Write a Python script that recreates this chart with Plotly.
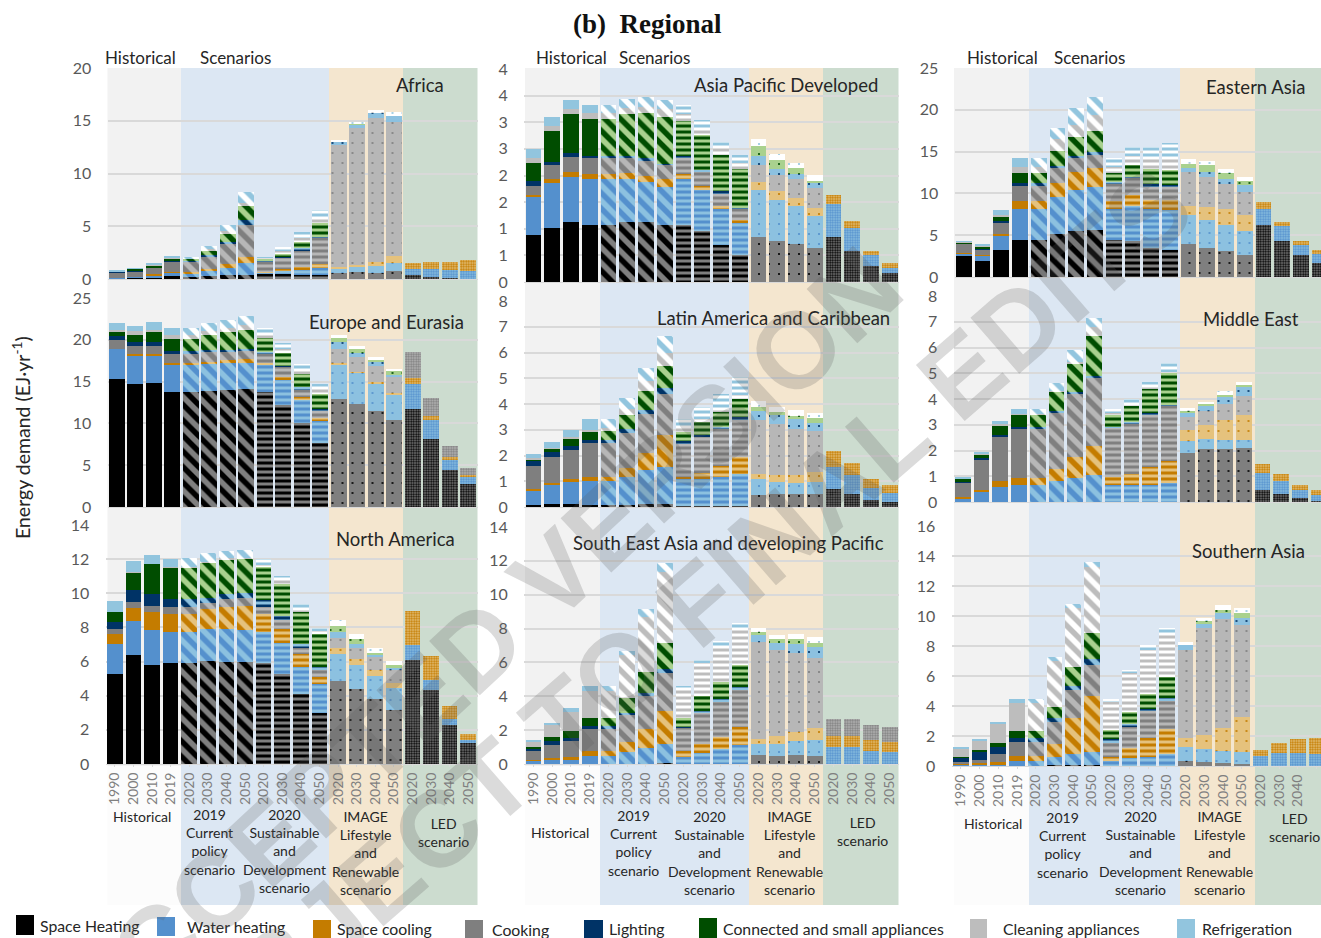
import plotly.graph_objects as go

W, H = 1321, 938

series_names = ["Space Heating", "Water heating", "Space cooling", "Cooking", "Lighting",
                "Connected and small appliances", "Cleaning appliances", "Refrigeration"]
years = ["1990", "2000", "2010", "2019"] + ["2020", "2030", "2040", "2050"] * 4

# each row is one bar: heating, water, cooling, cooking, lighting, connected, cleaning, refrigeration
africa = [
    [.08,.05,0,.5,.07,.03,0,.09], [.1,.08,0,.55,.05,.17,0,.09], [.1,.2,.15,.6,.05,.15,.05,.2], [.25,.35,.1,.95,.05,.25,.05,.1],
    [.2,.35,.1,1.05,.05,.2,.03,.1], [.25,.55,.15,1.2,.1,.45,.1,.35], [.35,.7,.4,1.95,.15,.7,.3,.6], [.35,1.15,.55,3.1,.45,1.3,.3,1.0],
    [.45,.2,.05,.95,.05,.25,.05,.08], [.45,.35,.15,1.05,.05,.35,.3,.33], [.4,.5,.25,1.55,.2,.6,.4,.55], [.4,.65,.35,2.5,.1,1.3,.5,.77],
    [.55,.45,.1,11.57,.33,.02,.02,.06], [.65,.45,.25,12.95,.35,.05,.03,.07], [.6,.6,.45,13.6,.5,.05,.05,.15], [.75,.75,.7,12.65,.6,.07,.03,.25],
    [.35,.6,.6], [.2,.75,.69], [.1,.75,.79], [0,.8,1.0],
]
asia_pacific = [
    [.89,.7,.04,.18,.08,.34,.1,.16], [1.02,.83,.08,.26,.07,.58,.09,.17], [1.12,.85,.1,.28,.07,.73,.1,.17], [1.07,.86,.1,.29,.05,.7,.11,.15],
    [1.07,.86,.1,.29,.05,.7,.11,.15], [1.12,.81,.11,.3,.03,.78,.12,.17], [1.12,.76,.12,.29,.03,.85,.12,.18], [1.07,.72,.14,.27,.02,.88,.14,.18],
    [1.07,.86,.09,.3,.05,.66,.12,.17], [.95,.78,.07,.27,.03,.67,.12,.16], [.7,.67,.06,.23,.04,.69,.12,.12], [.51,.6,.05,.22,.01,.73,.12,.14],
    [.84,.88,.16,.32,.17,.19,.02,.1], [.77,.77,.16,.31,.11,.18,.02,.08], [.72,.71,.15,.35,.09,.13,.02,.07], [.63,.61,.15,.38,.08,.06,.02,.08],
    [.84,.63,.16], [.58,.44,.12], [.3,.21,.07], [.16,.11,.08],
]
eastern_asia = [
    [2.5,.3,.02,1.18,.04,.04,.12,.08], [1.92,.64,.02,.7,.12,.2,.12,.16], [3.28,1.64,.28,1.32,.16,.6,.12,.6], [4.48,3.64,.92,1.96,.2,1.28,.72,1.04],
    [4.48,3.64,.92,1.96,.2,1.2,.8,1.04], [5.2,4.4,1.6,1.88,.24,1.8,1.35,1.35], [5.48,4.92,2.2,1.72,.2,2.2,1.5,1.94], [5.6,5.2,2.28,1.52,.4,2.52,1.9,2.1],
    [4.48,3.64,1.0,2.08,.12,1.08,.8,1.0], [4.32,4.16,1.32,2.08,.12,1.4,1.1,1.02], [3.52,4.56,1.12,1.6,.32,1.76,1.3,1.34], [3.28,4.72,1.2,1.52,.28,1.8,1.5,1.7],
    [4.0,3.4,1.04,4.16,.48,.52,.02,.46], [3.52,3.28,1.6,3.6,.6,.88,.02,.42], [3.12,3.08,1.92,3.04,.52,.76,.02,.42], [2.68,2.8,1.92,2.8,.8,.6,.02,.38],
    [6.2,1.92,.8], [4.28,1.8,.48], [2.6,1.24,.44], [1.72,1.08,.48],
]
europe = [
    [15.3,3.56,0,1.14,.5,.43,.27,.8], [14.7,3.4,.24,.96,.44,.86,.4,.7], [14.87,3.23,.24,.96,.44,1.16,.3,.93], [13.7,3.3,.2,1.06,.44,1.44,.39,.84],
    [13.7,3.3,.2,1.06,.44,1.44,.4,.83], [13.84,3.36,.2,1.1,.24,1.86,.5,.9], [13.95,3.27,.32,1.06,.2,2.1,.55,.95], [14.15,3.07,.48,1.04,.16,2.3,.6,1.1],
    [13.7,3.3,.2,1.06,.34,1.6,.4,.77], [12.2,3.1,.2,1.25,.15,1.5,.5,.7], [10.0,2.9,.2,1.0,.2,1.65,.5,.7], [7.65,2.72,.23,.96,.2,1.8,.5,.69],
    [12.9,4.1,.2,1.74,.8,.59,.02,.25], [12.36,3.67,.12,1.75,.5,.6,.02,.28], [11.44,3.39,.17,1.9,.45,.35,.02,.23], [10.4,3.08,.16,1.96,.23,.47,.01,.12],
    [11.76,2.94,.73,3.15], [8.17,2.28,.4,2.23], [4.47,1.19,.32,1.36], [2.71,.88,.2,.91],
]
latin_america = [
    [.08,.55,.07,.91,.16,.09,.03,.15], [.13,.71,.08,1.02,.19,.14,.04,.21], [.13,.85,.09,1.15,.16,.28,.04,.3], [.08,.94,.16,1.3,.14,.33,.05,.42],
    [.08,.94,.16,1.3,.14,.33,.1,.37], [.08,1.1,.33,1.38,.13,.56,.22,.45], [.13,1.3,.66,1.51,.17,.73,.4,.5], [.13,1.43,1.24,1.59,.25,.85,.51,.64],
    [.05,1.02,.11,1.27,.1,.36,.14,.37], [.05,1.02,.27,1.4,.06,.5,.1,.48], [.05,1.13,.4,1.44,.08,.58,.17,.54], [.05,1.25,.64,1.44,.11,.71,.15,.69],
    [.45,.62,.21,2.08,.35,.19,.02,.19], [.49,.49,.25,2.0,.34,.14,.02,.17], [.49,.43,.33,1.79,.37,.16,.02,.18], [.49,.49,.39,1.59,.32,.18,.02,.19],
    [.7,.85,.63], [.5,.73,.47], [.26,.48,.35], [.18,.36,.3],
]
middle_east = [
    [.01,.12,.05,.57,.02,.13,.01,.06], [.01,.36,.11,1.17,.04,.17,.01,.08], [0,.6,.21,1.75,.04,.39,.04,.11], [0,.67,.28,1.91,.04,.48,.02,.21],
    [0,.67,.28,1.91,.04,.48,.04,.19], [0,.81,.47,2.2,.05,.76,.04,.28], [0,.94,.81,2.48,.06,1.1,.06,.45], [0,1.04,1.15,2.66,.05,1.54,.36,.36],
    [0,.66,.31,1.92,.02,.48,.06,.16], [0,.66,.41,1.97,.05,.65,.06,.2], [0,.66,.69,2.04,.06,.97,.03,.2], [0,.75,.83,2.16,.01,1.26,.05,.34],
    [1.9,.47,.44,.49,.15,.11,.02,.09], [2.04,.42,.52,.54,.19,.1,.02,.07], [2.04,.38,.78,.61,.26,.11,.02,.13], [2.09,.33,.96,.72,.35,.11,.02,.08],
    [.46,.67,.34], [.32,.49,.29], [.14,.32,.21], [.04,.23,.19],
]
north_america = [
    [5.3,1.72,.58,.3,.44,.57,.01,.65], [6.39,2.01,.72,.35,.74,1.02,.01,.65], [5.81,2.03,1.07,.37,.66,1.79,.01,.52], [5.89,1.87,1.01,.45,.43,1.87,.01,.5],
    [5.89,1.87,1.01,.45,.43,1.87,.01,.55], [6.04,1.87,1.17,.35,.32,2.06,.05,.48], [6.0,1.91,1.29,.47,.27,2.05,.05,.44], [5.96,1.9,1.4,.45,.29,2.03,.05,.47],
    [5.89,1.87,1.01,.45,.37,1.97,.1,.37], [5.28,1.8,.83,.53,.25,1.84,.22,.26], [4.09,1.58,.76,.35,.24,1.91,.2,.23], [2.98,1.72,.39,.43,.15,1.95,.2,.17],
    [4.87,1.58,.33,.59,.39,.35,.02,.29], [4.37,1.44,.35,.66,.2,.31,.02,.27], [3.8,1.35,.37,.72,.15,.16,.02,.25], [3.16,1.28,.3,.78,.13,.16,.02,.21],
    [6.1,.88,2.01], [4.31,.62,1.39], [2.28,.37,.72], [1.21,.19,.37],
]
south_east_asia = [
    [0,.22,.04,.53,.15,.06,.34,.07], [0,.26,.07,.79,.22,.23,.79,.08], [0,.26,.17,.91,.19,.4,1.13,.24], [0,.45,.34,1.29,.14,.51,1.61,.28],
    [0,.47,.32,1.29,.14,.51,1.61,.28], [0,.69,.59,1.59,.13,.91,2.53,.24], [0,.94,1.14,1.91,.23,1.22,3.26,.46], [.06,1.14,1.96,2.2,.28,1.53,4.19,.49],
    [0,.43,.32,1.41,.04,.49,1.69,.24], [0,.67,.51,1.87,.09,.85,1.96,.18], [0,.9,.69,2.1,.14,1.04,2.07,.33], [0,1.14,1.06,2.18,.14,1.33,2.07,.43],
    [.55,.63,.31,5.74,.39,.22,.02,.19], [.47,.71,.45,5.11,.41,.24,.02,.21], [.55,.79,.57,4.67,.49,.32,.02,.25], [.45,.96,.71,4.17,.65,.23,.02,.33],
    [0,.98,.65,1.02], [0,.98,.65,1.02], [0,.79,.62,.87], [0,.69,.63,.84],
]
southern_asia = [
    [.01,.1,.07,.06,.34,.02,.58,.09], [.01,.06,.11,.22,.51,.16,.6,.13], [.01,.1,.13,.58,.47,.27,1.26,.07], [.01,.32,.31,.98,.25,.49,1.84,.24],
    [.01,.32,.31,.98,.25,.49,1.84,.24], [.07,.51,.89,1.49,.26,.71,3.09,.22], [.07,.73,2.38,1.89,.26,1.25,3.93,.29], [.07,.89,3.73,2.04,.4,1.76,4.4,.31],
    [.01,.32,.25,.98,.24,.6,1.84,.2], [.01,.5,.71,1.4,.18,.82,2.6,.2], [.01,.61,1.22,1.83,.15,.98,2.93,.31], [.01,.81,1.65,1.86,.18,1.4,2.93,.34],
    [.36,.93,.58,5.86,.34,.06,.01,.08], [.29,.84,.91,7.18,.22,.25,.02,.13], [.22,.8,1.49,7.27,.4,.24,.02,.27], [.16,.8,2.33,6.11,.44,.36,.02,.31],
    [0,.64,.43], [0,.89,.67], [0,.89,.91], [0,.8,1.09],
]

# ---- appearance -------------------------------------------------------------
solid_colors = ["#000000", "#5490cd", "#c47c00", "#7f7f7f", "#003366", "#004d00", "#bdbdbd", "#92c5de"]
light_colors = ["#7f7f7f", "#8cc1e0", "#e5c27d", "#b7b7b7", "#8cc1e0", "#a9d18e", "#ffffff", "#ffffff"]
GRID = "#d9d9d9"
TICK = "#595959"
FONT = "Lato"
BAND_GREY, BAND_BLUE, BAND_TAN, BAND_GREEN, BAND_WHITE = "#f2f2f2", "#dce7f3", "#f4e6cf", "#ccdccf", "#fcfcfc"

# per-bar hatch groups: historical, current policy, sustainable development, IMAGE, LED
group_shape = ["", "\\", "-", ".", "."]
group_size = [8, 11, 6, 10, 2.5]
group_solid = [0.3, 0.5, 0.5, 0.035, 0.5]
group_of_bar = [0] * 4 + [1] * 4 + [2] * 4 + [3] * 4 + [4] * 4

px_x = lambda x: x / W
px_y = lambda y: 1 - y / H

# panel: title, rows, left px, right px, top px, bottom px, top value, tick step, title x, title y
panels = [
    ("Africa", africa, 107.5, 477.5, 68, 279, 20, 5, 420, 85),
    ("Asia Pacific Developed", asia_pacific, 524, 899, 69, 282, 4, .5, 786, 85),
    ("Eastern Asia", eastern_asia, 954.5, 1329, 68, 277, 25, 5, 1255, 87),
    ("Europe and Eurasia", europe, 107.5, 477.5, 298, 507, 25, 5, 386, 322),
    ("Latin America and Caribbean", latin_america, 524, 899, 301, 507, 8, 1, 773, 318),
    ("Middle East", middle_east, 953.5, 1328, 296, 502, 8, 1, 1251, 319),
    ("North America", north_america, 105.5, 477.5, 525, 764, 14, 2, 395, 539),
    ("South East Asia and developing Pacific", south_east_asia, 524, 899, 527, 764, 14, 2, 728, 543),
    ("Southern Asia", southern_asia, 951.5, 1326, 526, 766, 16, 2, 1248, 551),
]
half_tick_labels = ["0", "1", "1", "2", "2", "3", "3", "4", "4"]

fig = go.Figure()
layout = dict(
    width=W, height=H, autosize=False, margin=dict(l=0, r=0, t=0, b=0, pad=0),
    paper_bgcolor="white", plot_bgcolor="rgba(0,0,0,0)", barmode="stack", bargap=0.16,
    showlegend=False, font=dict(family=FONT, color="#262626"),
)
annotations = []
shapes = []


def note(text, x, y, size=14, color="#262626", family=FONT, xanchor="center", yanchor="middle", angle=0, align="center"):
    # page-wide hidden axes (x10/y10) measure in pixels
    annotations.append(dict(text=text, x=x, y=y, xref="x10", yref="y10", showarrow=False,
                            font=dict(size=size, color=color, family=family), xanchor=xanchor, yanchor=yanchor,
                            textangle=angle, align=align, borderpad=0, borderwidth=0))


for i, (title, rows, left, right, top, bottom, vmax, step, tx, ty) in enumerate(panels):
    suffix = "" if i == 0 else str(i + 1)
    full = [list(r) + [0] * (8 - len(r)) for r in rows]
    for s in range(8):
        fig.add_trace(go.Bar(
            x=list(range(20)), y=[r[s] for r in full], name=series_names[s],
            xaxis="x" + suffix, yaxis="y" + suffix, showlegend=False,
            marker=dict(
                color=solid_colors[s], line=dict(width=0),
                pattern=dict(
                    shape=[group_shape[g] for g in group_of_bar],
                    size=[group_size[g] for g in group_of_bar],
                    solidity=[group_solid[g] for g in group_of_bar],
                    fgcolor=solid_colors[s], bgcolor=light_colors[s], fillmode="replace",
                ),
            ),
        ))
    pitch = (right - left) / 20
    clip_right = min(right, W)
    n = int(vmax / step + 0.5)
    tickvals = [k * step for k in range(n + 1)]
    ticktext = half_tick_labels if step == .5 else [str(int(v)) for v in tickvals]
    last_row = i >= 6
    layout["xaxis" + suffix] = dict(
        domain=[px_x(left), px_x(clip_right)], range=[-0.5, -0.5 + (clip_right - left) / pitch],
        anchor="y" + suffix, tickmode="array", tickvals=list(range(20)), automargin=False,
        ticktext=years if last_row else [""] * 20, showticklabels=last_row, tickangle=-90,
        tickfont=dict(size=14, color="#7f7f7f", family=FONT), ticks="outside" if last_row else "",
        ticklen=2, tickcolor=GRID, showgrid=False, zeroline=False, showline=True, linecolor=GRID, linewidth=1,
    )
    layout["yaxis" + suffix] = dict(
        domain=[px_y(bottom), px_y(top)], range=[0, vmax], anchor="x" + suffix, tickmode="array", automargin=False,
        tickvals=tickvals, ticktext=ticktext, tickfont=dict(size=16, color=TICK, family=FONT),
        ticks="outside", ticklen=12, tickcolor="rgba(0,0,0,0)", gridcolor=GRID, gridwidth=1.5,
        zeroline=False, showline=False,
    )
    note(title, tx, ty, size=18.5)

# hidden full-page axes that carry the annotations
fig.add_trace(go.Scatter(x=[0], y=[0], xaxis="x10", yaxis="y10", mode="markers", showlegend=False,
                         marker=dict(size=1, opacity=0), hoverinfo="skip"))
layout["xaxis10"] = dict(domain=[0, 1], range=[0, W], anchor="y10", visible=False, fixedrange=True, automargin=False)
layout["yaxis10"] = dict(domain=[0, 1], range=[H, 0], anchor="x10", visible=False, fixedrange=True, automargin=False)

# coloured scenario bands behind each column: left, hist/blue, blue/tan, tan/green, right
band_edges = [(107.5, 181, 329, 403, 477.5), (525, 600, 749, 823, 898.5), (954, 1029, 1180, 1255, 1321)]
for col, (a, b, c, d, e) in enumerate(band_edges):
    top_y = 68
    for x0, x1, y0, y1, colr in [(a, b, top_y, 766, BAND_GREY), (a, b, 766, 905, BAND_WHITE),
                                 (b, c, top_y, 905, BAND_BLUE), (c, d, top_y, 905, BAND_TAN), (d, e, top_y, 905, BAND_GREEN)]:
        shapes.append(dict(type="rect", xref="paper", yref="paper", x0=px_x(x0), x1=px_x(x1), y0=px_y(y0), y1=px_y(y1),
                           fillcolor=colr, line=dict(width=0), layer="below"))

note("<b>(b)\u00a0\u00a0Regional</b>", 647, 24, size=27, color="#111111", family="Liberation Serif")
note("Energy demand (EJ·yr<sup>-1</sup>)", 21, 438, size=19.5, angle=-90)

for hx, sx in [(140, 235), (571, 654), (1002, 1089)]:
    note("Historical", hx, 57, size=17)
    note("Scenarios", sx, 57, size=17)

current = "2019<br>Current<br>policy<br>scenario"
sustainable = "2020<br>Sustainable<br>and<br>Development<br>scenario"
lifestyle = "IMAGE<br>Lifestyle<br>and<br>Renewable<br>scenario"
led = "LED<br>scenario"
for x_hist, y_hist, x1, y1, x2, y2, x3, y3, x4, y4 in [
    (142, 816, 209, 806, 284, 806, 365, 808, 443, 815),
    (560, 832, 633, 807, 709, 808, 789, 808, 862, 814),
    (993, 823, 1062, 809, 1140, 808, 1219, 808, 1294, 810),
]:
    note("Historical", x_hist, y_hist)
    note(current, x1, y1, yanchor="top")
    note(sustainable, x2, y2, yanchor="top")
    note(lifestyle, x3, y3, yanchor="top")
    note(led, x4, y4, yanchor="top")

# hand-placed key along the bottom edge: swatch left, swatch right, swatch top, swatch bottom, text left, text y
key = [(16, 34, 915, 935, 40, 925), (157, 175, 917, 936, 187, 926), (313, 331, 920, 938, 337, 928),
       (465, 483, 920, 938, 492, 929), (584, 603, 920, 938, 609, 928), (699, 717, 918, 938, 723, 928),
       (970, 987, 919, 938, 1003, 928), (1177, 1195, 919, 938, 1202, 928)]
for s, (x0, x1, y0, y1, tx, ty) in enumerate(key):
    shapes.append(dict(type="rect", xref="paper", yref="paper", x0=px_x(x0), x1=px_x(x1), y0=px_y(y0), y1=px_y(y1),
                       fillcolor=solid_colors[s], line=dict(width=0), layer="above"))
    note(series_names[s], tx, ty, size=15.8, xanchor="left")

# diagonal watermark
mark = "rgba(90,90,90,0.22)"
note("<b>ACCEPTED VERSION</b>", 477, 646, size=108, color=mark, family="Liberation Sans", angle=-43)
note("<b>SUBJECT TO FINAL EDITS</b>", 655, 640, size=108, color=mark, family="Liberation Sans", angle=-41)

layout["annotations"] = annotations
layout["shapes"] = shapes
fig.update_layout(**layout)
fig.write_html("out.html", config={"displayModeBar": False},
               post_script="document.body.style.margin='0';document.body.style.overflow='hidden';")
